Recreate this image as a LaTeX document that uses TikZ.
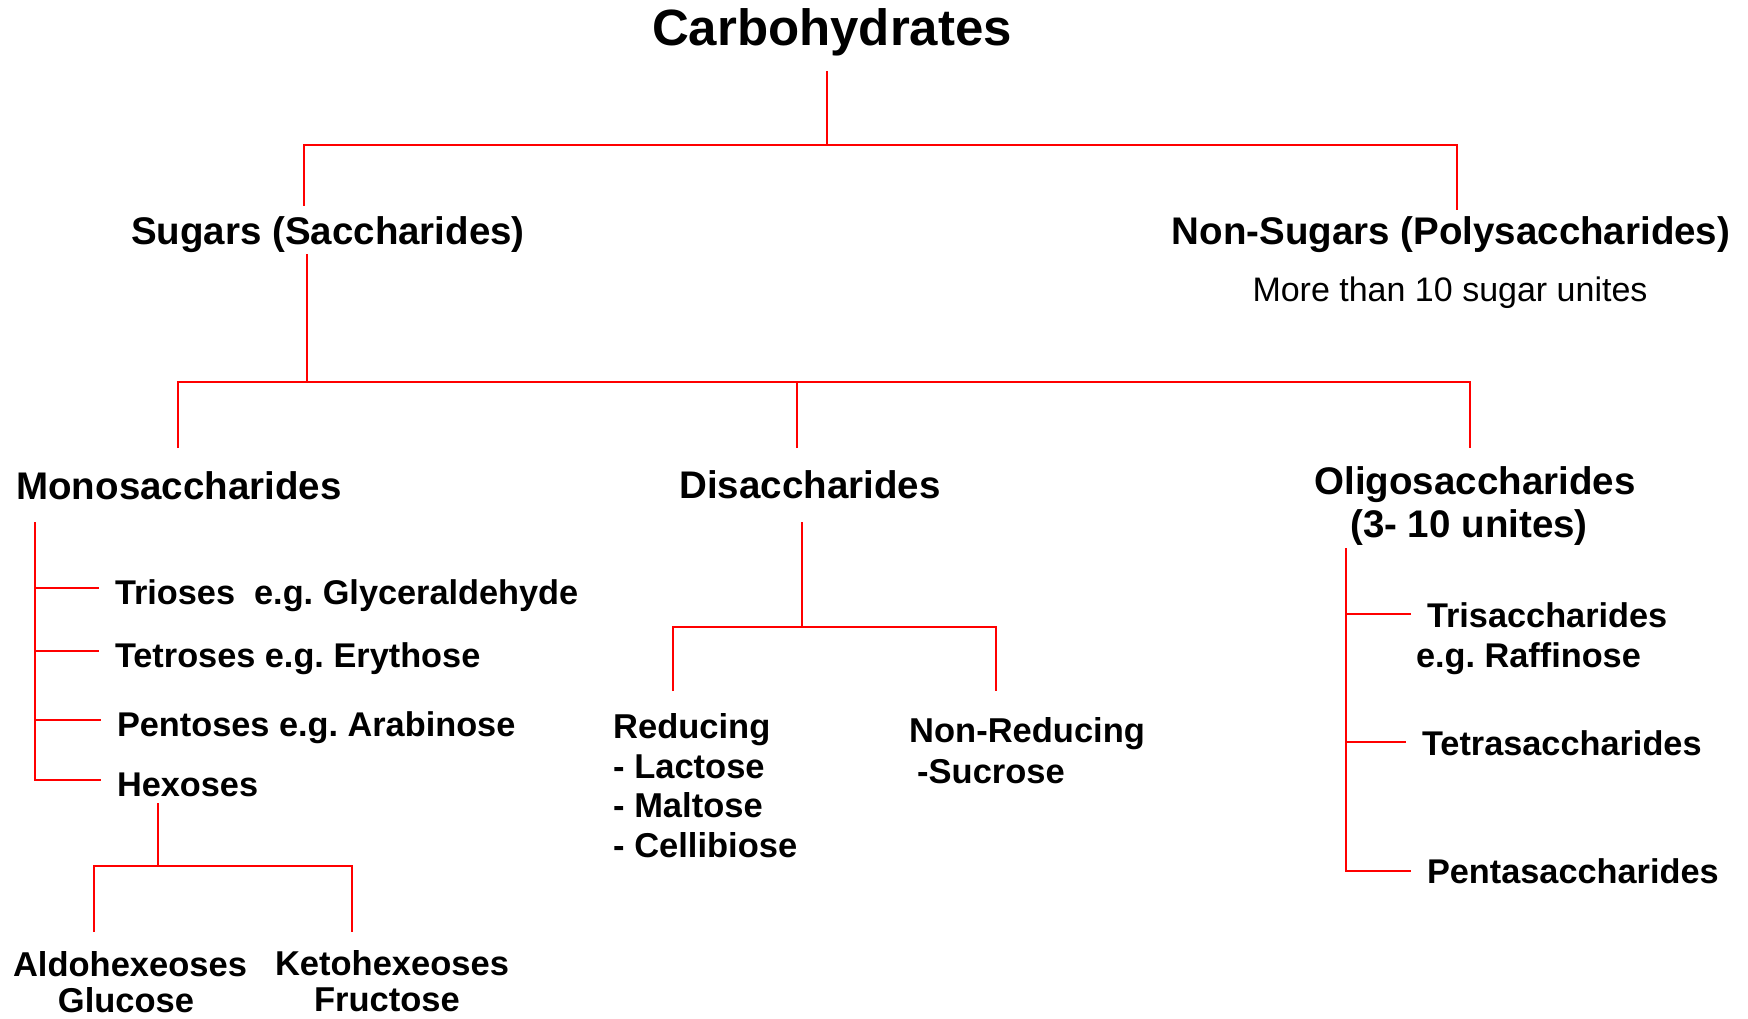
\documentclass[tikz,border=0pt]{standalone}
\usepackage{fontspec}
\setmainfont{Liberation Sans}
\frenchspacing
\begin{document}
\begin{tikzpicture}[x=1pt, y=-1pt,
    link/.style={red, line width=2pt},
    head/.style={font=\bfseries\fontsize{51}{60}\selectfont, inner sep=0pt, anchor=base},
    big/.style={font=\bfseries\fontsize{38.5}{46}\selectfont, inner sep=0pt, anchor=base},
    sub/.style={font=\bfseries\fontsize{34.5}{42}\selectfont, inner sep=0pt, anchor=base},
    item/.style={font=\bfseries\fontsize{34.3}{42}\selectfont, inner sep=0pt, anchor=base west,
      outer xsep=16pt, text height=32pt, text depth=0pt},
    note/.style={font=\fontsize{34}{40}\selectfont, inner sep=0pt, anchor=base}]
  \useasboundingbox (0,0) rectangle (1748,1019);

  % top level
  \node [head] (carb) at (832,46) {Carbohydrates};
  \node [big] (sug) at (328,244) {Sugars (Saccharides)};
  \node [big] (nons) at (1451,244) {Non-Sugars (Polysaccharides)};
  \node [note] (more) at (1450,301) {More than 10 sugar unites};
  \coordinate (carbB) at (827,71);
  \coordinate (carbJ) at (827,145);
  \coordinate (sugT) at (304,206);
  \coordinate (nonsT) at (1457,210);
  \draw [link] (carbB) -- (carbJ);
  \draw [link] (sugT) |- (carbJ) -| (nonsT);

  % sugars
  \node [big] (mono) at (179,499) {Monosaccharides};
  \node [big] (di) at (810,498) {Disaccharides};
  \node [big] (oligo) at (1475,494) {Oligosaccharides};
  \node [big] (oligoN) at (1469,537) {(3- 10 unites)};
  \coordinate (sugB) at (307,254);
  \coordinate (sugJ) at (307,382);
  \coordinate (monoT) at (178,448);
  \coordinate (diT) at (797,448);
  \coordinate (oligoT) at (1470,448);
  \draw [link] (sugB) -- (sugJ);
  \draw [link] (monoT) |- (sugJ) -| (oligoT);
  \draw [link] (diT) -- (diT |- sugJ);

  % monosaccharides
  \node [item] (tri) at (99,604) {Trioses\ \ e.g. Glyceraldehyde};
  \node [item] (tetro) at (99,667) {Tetroses e.g. Erythose};
  \node [item] (pento) at (101,736) {Pentoses e.g. Arabinose};
  \node [item] (hex) at (101,796) {Hexoses};
  \coordinate (monoS) at (35,522);
  \draw [link] (monoS) |- (hex.west);
  \foreach \n in {tri,tetro,pento}
    \draw [link] (monoS |- \n.west) -- (\n.west);

  % hexoses
  \node [sub] (aldo) at (130,976) {Aldohexeoses};
  \node [sub] (gluc) at (126,1012) {Glucose};
  \node [sub] (keto) at (392,975) {Ketohexeoses};
  \node [sub] (fruc) at (387,1011) {Fructose};
  \coordinate (hexB) at (158,803);
  \coordinate (hexJ) at (158,866);
  \coordinate (aldoT) at (94,932);
  \coordinate (ketoT) at (352,932);
  \draw [link] (hexB) -- (hexJ);
  \draw [link] (aldoT) |- (hexJ) -| (ketoT);

  % disaccharides
  \node [sub, anchor=base west] (redu) at (613,738) {Reducing};
  \node [sub, anchor=base west] (lac) at (613,778) {- Lactose};
  \node [sub, anchor=base west] (mal) at (613,817) {- Maltose};
  \node [sub, anchor=base west] (cel) at (613,857) {- Cellibiose};
  \node [sub, anchor=base west] (nred) at (909,742) {Non-Reducing};
  \node [sub, anchor=base west] (sucr) at (917,783) {-Sucrose};
  \coordinate (diB) at (802,522);
  \coordinate (diJ) at (802,627);
  \coordinate (reduT) at (673,691);
  \coordinate (nredT) at (996,691);
  \draw [link] (diB) -- (diJ);
  \draw [link] (reduT) |- (diJ) -| (nredT);

  % oligosaccharides
  \node [item, text height=26pt] (trisa) at (1411,627) {Trisaccharides};
  \node [item, text height=26pt] (raff) at (1400,667) {e.g. Raffinose};
  \node [item, text height=26pt] (tetra) at (1406,755) {Tetrasaccharides};
  \node [item, text height=24pt] (penta) at (1411,883) {Pentasaccharides};
  \coordinate (oligoS) at (1346,548);
  \draw [link] (oligoS) |- (penta.west);
  \foreach \n in {trisa,tetra}
    \draw [link] (oligoS |- \n.west) -- (\n.west);
\end{tikzpicture}
\end{document}
